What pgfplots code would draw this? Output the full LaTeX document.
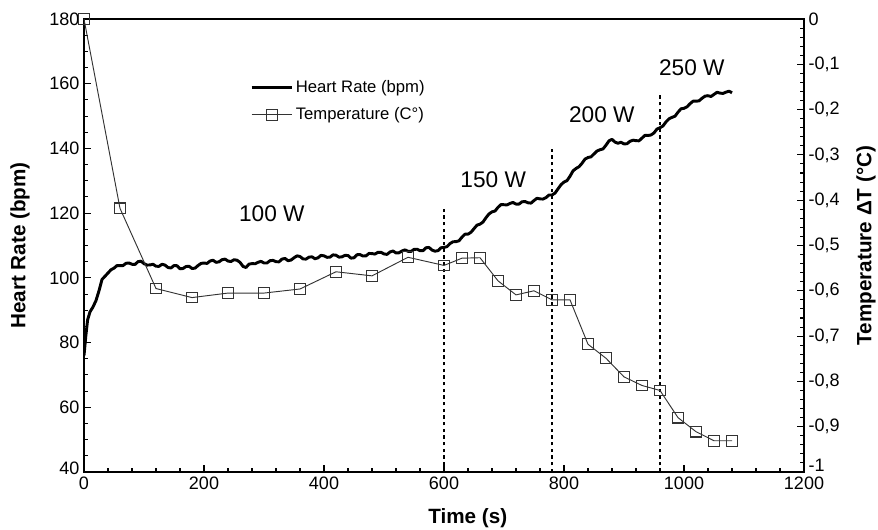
\documentclass[border=0pt]{standalone}
\usepackage{fontspec}
\setmainfont{Liberation Sans}
\usepackage{pgfplots}
\pgfplotsset{compat=1.18}

\begin{document}
\begin{tikzpicture}
\useasboundingbox (-63pt,-42.75pt) rectangle (595.5pt,354pt);
\pgfplotsset{
  every axis/.append style={
    scale only axis, width=540pt, height=339.75pt,
    xmin=0, xmax=1200,
    axis line style={line width=1pt, black},
    tick align=inside,
    major tick length=5pt, minor tick length=3pt,
    tick style={line width=0.8pt, black},
    /pgf/number format/assume math mode=true,
    /pgf/number format/1000 sep={},
    tick label style={font=\fontsize{13.5}{15}\selectfont},
    label style={font=\bfseries\fontsize{15.5}{18}\selectfont},
  },
}
\begin{axis}[
  at={(0,0)}, anchor=south west,
  ymin=40, ymax=180,
  ytick={40,60,...,180}, minor y tick num=3,
  yticklabels={\raisebox{5pt}{40},60,80,100,120,140,160,180},
  xtick={0,200,...,1200}, minor x tick num=4,
  xtick pos=bottom, ytick pos=left,
  xlabel={Time (s)}, ylabel={Heart Rate (bpm)},
  xlabel style={at={(axis description cs:0.533,-0.1015)}, anchor=center},
  ylabel style={at={(axis description cs:-0.089,0.5)}, anchor=center},
  legend style={at={(axis description cs:0.225,0.877)}, anchor=north west,
    draw=none, fill=none, font=\fontsize{12.5}{14}\selectfont,
    row sep=6pt, cells={anchor=west}},
  legend image code/.code={\draw[mark repeat=2,mark phase=2] plot coordinates {(0pt,0pt) (15pt,0pt) (30pt,0pt)};},
]
  % heart rate
  \addplot[black, line width=2.2pt, line join=round] coordinates {
    (0,76) (3,82) (6,87) (10,89.5) (15,91) (20,93) (25,96) (30,99.5) (35,100.5)
    (40,101.5) (45,102.5) (50,103) (55,103.8) (60,103.8) (65,103.8) (70,104.5)
    (75,104.6) (80,104.2) (85,104.15) (90,105) (95,105.15) (100,104.4) (105,103.95)
    (110,104) (115,104.2) (120,103.6) (125,103.55) (130,104.2) (135,103.95)
    (140,103.2) (145,103.05) (150,103.8) (155,103.75) (160,102.8) (165,102.9)
    (170,103.5) (175,103.6) (180,102.9) (185,103) (190,103.8) (195,104.45)
    (200,104.6) (205,104.45) (210,105.2) (215,105.45) (220,104.8) (225,104.95)
    (230,105.6) (235,105.8) (240,105.2) (245,105.05) (250,105.6) (255,105.45)
    (260,104.8) (265,103.55) (270,103.2) (275,104.25) (280,104.4) (285,104.35)
    (290,104.8) (295,105.1) (300,104.6) (305,104.6) (310,105.3) (315,105.4)
    (320,105) (325,104.95) (330,105.8) (335,106) (340,105.3) (345,105.5)
    (350,106.2) (355,106.8) (360,106.6) (365,105.85) (370,105.8) (375,106.4)
    (380,106.5) (385,105.9) (390,106.2) (395,106.95) (400,106.8) (405,106.35)
    (410,106.4) (415,107.1) (420,107) (425,106.4) (430,106.5) (435,106.95)
    (440,106.9) (445,106.1) (450,106.2) (455,107.15) (460,107.2) (465,106.75)
    (470,106.8) (475,107.55) (480,107.5) (485,107.35) (490,107.9) (495,107.9)
    (500,107.4) (505,107.25) (510,108) (515,108.3) (520,107.7) (525,107.75)
    (530,108.3) (535,108.65) (540,108.2) (545,108.15) (550,108.8) (555,108.85)
    (560,108.4) (565,108.4) (570,109.3) (575,109.4) (580,108.6) (585,108.25)
    (590,108.4) (595,109.3) (600,109.4) (605,109.65) (610,110.6) (615,111.15)
    (620,111.2) (625,111.45) (630,112.6) (635,113.5) (640,113.5) (645,114.1)
    (650,115.2) (655,116.3) (660,116.6) (665,117.25) (670,118.6) (675,119.75)
    (680,120.4) (685,120.65) (690,121.8) (695,122.65) (700,122.6) (705,122.55)
    (710,123) (715,123.3) (720,122.8) (725,122.8) (730,123.5) (735,123.6)
    (740,123.2) (745,123.1) (750,123.9) (755,124.6) (760,124.4) (765,124.35)
    (770,124.8) (775,125.6) (780,125.6) (785,126.2) (790,127.5) (795,128.8)
    (800,129.6) (805,130.05) (810,131.4) (815,133.05) (820,133.8) (825,134.35)
    (830,135.4) (835,136.7) (840,137.2) (845,137.4) (850,138.3) (855,139.2)
    (860,139.6) (865,139.85) (870,141) (875,142.35) (880,142.8) (885,141.95)
    (890,141.6) (895,141.9) (900,141.4) (905,141.45) (910,142.2) (915,142.55)
    (920,142.4) (925,142.35) (930,143.2) (935,144.05) (940,144) (945,144.15)
    (950,144.8) (955,146) (960,146.4) (965,146.95) (970,148.2) (975,149.15)
    (980,149.6) (985,149.95) (990,151.2) (995,152.25) (1000,152.4) (1005,152.85)
    (1010,153.8) (1015,154.6) (1020,154.6) (1025,154.7) (1030,155.5) (1035,156.15)
    (1040,156.3) (1045,156.05) (1050,156.7) (1055,157.35) (1060,157.1)
    (1065,157) (1070,157.4) (1075,157.7) (1080,157.2)
  };
  \addlegendentry{Heart Rate (bpm)}
  \addlegendimage{black!80, line width=0.7pt, mark=square, mark size=4pt,
    mark options={fill=white, solid, line width=0.8pt}}
  \addlegendentry{Temperature (C°)}
  % stage boundaries
  \addplot[black, line width=0.8pt, dash pattern=on 2.5pt off 2.5pt, forget plot] coordinates {(600,40) (600,121.6)};
  \addplot[black, line width=0.8pt, dash pattern=on 2.5pt off 2.5pt, forget plot] coordinates {(780,40) (780,140.4)};
  \addplot[black, line width=0.8pt, dash pattern=on 2.5pt off 2.5pt, forget plot] coordinates {(960,40) (960,157.4)};
  \node[font=\fontsize{17}{20}\selectfont] at (axis cs:313,119.7) {100 W};
  \node[font=\fontsize{17}{20}\selectfont] at (axis cs:682,130.2) {150 W};
  \node[font=\fontsize{17}{20}\selectfont] at (axis cs:863,150.3) {200 W};
  \node[font=\fontsize{17}{20}\selectfont] at (axis cs:1013,164.9) {250 W};
\end{axis}

\begin{axis}[
  at={(0,0)}, anchor=south west,
  axis x line=none, axis y line*=right,
  ymin=-1, ymax=0,
  ytick={-1,-0.9,...,0}, minor y tick num=4,
  yticklabels={\raisebox{10pt}{-1},{-0,9},{-0,8},{-0,7},{-0,6},{-0,5},{-0,4},{-0,3},{-0,2},{-0,1},0},
  ylabel={Temperature ΔT (°C)},
  ylabel style={at={(axis description cs:1.086,0.5)}, anchor=center},
  clip=false,
]
  \addplot[black!80, line width=0.7pt, mark=square, mark size=4pt,
    mark options={fill=white, solid, line width=0.8pt}] coordinates {
    (0,0) (60,-0.418) (120,-0.595) (180,-0.615) (240,-0.605) (300,-0.605)
    (360,-0.596) (420,-0.558) (480,-0.567) (540,-0.526) (600,-0.544)
    (630,-0.528) (660,-0.527) (690,-0.578) (720,-0.609) (750,-0.600)
    (780,-0.620) (810,-0.620) (840,-0.718) (870,-0.749) (900,-0.790)
    (930,-0.809) (960,-0.820) (990,-0.880) (1020,-0.911) (1050,-0.931)
    (1080,-0.931)
  };
\end{axis}
\end{tikzpicture}
\end{document}
